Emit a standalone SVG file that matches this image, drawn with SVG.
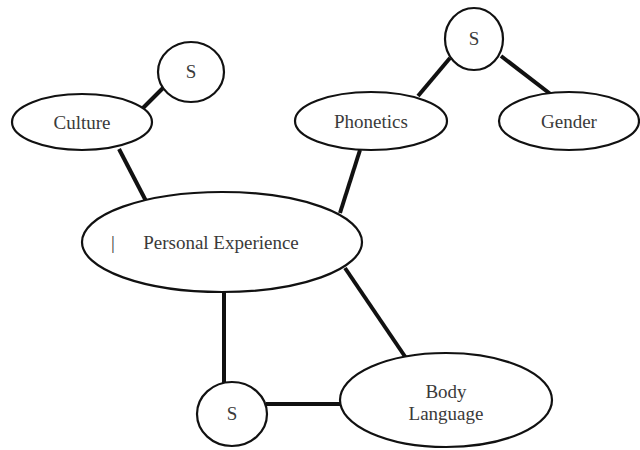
<svg xmlns="http://www.w3.org/2000/svg" width="640" height="450" viewBox="0 0 640 450">
<style>
.n{fill:#fff;stroke:#111;stroke-width:2.2}
.c line{stroke:#111;stroke-width:4;stroke-linecap:butt}
text{font-family:'Liberation Serif','DejaVu Serif',serif;font-size:19px;fill:#3a3a3a;text-anchor:middle}
</style>
<rect width="640" height="450" fill="#fff"/>
<g class="c" id="connectors">
<line x1="143" y1="108" x2="163" y2="88"/>
<line x1="119" y1="149" x2="146" y2="201"/>
<line x1="450" y1="58" x2="418" y2="96"/>
<line x1="501" y1="56" x2="553" y2="96"/>
<line x1="360" y1="150" x2="340" y2="213"/>
<line x1="345" y1="268" x2="406" y2="358"/>
<line x1="224" y1="290" x2="224" y2="384"/>
<line x1="266" y1="404" x2="342" y2="404"/>
</g>
<g id="s1"><ellipse class="n" cx="191" cy="72" rx="33" ry="30"/><text x="191" y="78">S</text></g>
<g id="culture"><ellipse class="n" cx="82" cy="122" rx="70" ry="28"/><text x="82" y="129">Culture</text></g>
<g id="s2"><ellipse class="n" cx="474" cy="39" rx="29" ry="31"/><text x="474" y="45">S</text></g>
<g id="phonetics"><ellipse class="n" cx="371" cy="121" rx="76" ry="29"/><text x="371" y="128">Phonetics</text></g>
<g id="gender"><ellipse class="n" cx="569" cy="121" rx="70" ry="29"/><text x="569" y="128">Gender</text></g>
<g id="personal"><ellipse class="n" cx="222" cy="242" rx="140" ry="50"/><text x="113" y="249">|</text><text x="221" y="249">Personal Experience</text></g>
<g id="s3"><ellipse class="n" cx="232" cy="414" rx="35" ry="32"/><text x="232" y="420">S</text></g>
<g id="body"><ellipse class="n" cx="446" cy="400" rx="106" ry="47"/><text x="446" y="398">Body</text><text x="446" y="420">Language</text></g>
</svg>
